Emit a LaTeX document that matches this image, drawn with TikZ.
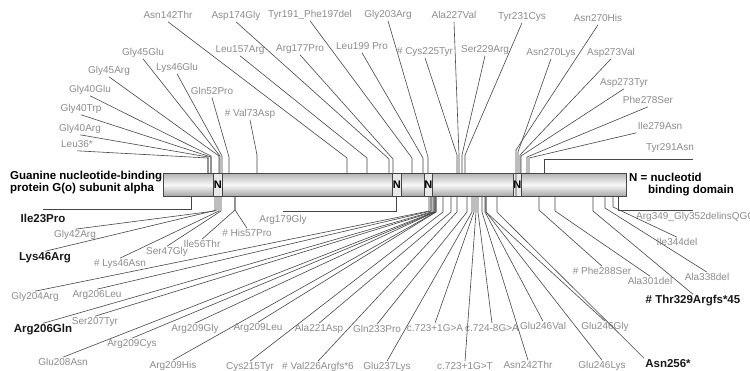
\documentclass[tikz,border=0pt]{standalone}
\usepackage{fontspec}
\setmainfont{Liberation Sans}
\definecolor{labgray}{RGB}{140,140,140}
\definecolor{lngray}{RGB}{70,70,70}
\newcommand\mup[6]{%
  \node[#4] (#1) at (#2) {#3};
  \draw[con] (#1.#6) -- (#5) -- (#5 |- bar.north);}
\newcommand\mdn[6]{%
  \node[#4] (#1) at (#2) {#3};
  \draw[con] (#1.#6) -- (#5) -- (#5 |- bar.south);}
\begin{document}
\begin{tikzpicture}[x=1pt,y=-1pt,
  lab/.style={font=\fontsize{10}{11}\selectfont, text=labgray, inner sep=1pt, text height=7.2pt, text depth=2pt},
  blab/.style={font=\bfseries\fontsize{11.5}{13}\selectfont, text=black!90, inner sep=1pt, text height=8.5pt, text depth=2.5pt},
  con/.style={draw=lngray, line width=0.6pt},
  nbox/.style={draw=lngray, line width=0.5pt, fill=gray!18, inner sep=0pt, anchor=north west, minimum height=23pt, font=\bfseries\fontsize{11}{12}\selectfont},
  ttl/.style={font=\bfseries\fontsize{11.5}{12}\selectfont, align=left, inner sep=0pt, anchor=west}]
\useasboundingbox (0,0) rectangle (750,371);
\fill[white] (0,0) rectangle (750,371);
% bar
\node[draw=lngray, line width=0.6pt, anchor=north west, inner sep=0pt, minimum width=463pt, minimum height=23pt,
  top color=gray!60, bottom color=gray!70, middle color=gray!6] (bar) at (163,173) {};
\node[nbox, minimum width=9pt] (n1) at (213,173) {N};
\node[nbox, minimum width=9pt] (n2) at (392,173) {N};
\node[nbox, minimum width=7pt] (n3) at (424,173) {N};
\node[nbox, minimum width=7pt] (n4) at (513,173) {N};
% titles
\node[ttl] (title) at (10,183) {Guanine nucleotide-binding\\protein G(o) subunit alpha};
\node[ttl] (legend) at (629,185) {N = nucleotid\\\hspace*{19pt}binding domain};
% top mutations
\mup{leu36}{77,145}{Leu36*}{lab}{208,158}{south}
\mup{gly40arg}{80,129}{Gly40Arg}{lab}{208,157}{south}
\mup{gly40trp}{81,109}{Gly40Trp}{lab}{211,157}{south}
\mup{gly40glu}{90,90}{Gly40Glu}{lab}{211,156}{south}
\mup{gly45arg}{109,71}{Gly45Arg}{lab}{219,156}{south}
\mup{gly45glu}{143,53}{Gly45Glu}{lab}{220,156}{south}
\mup{lys46glu}{177,68}{Lys46Glu}{lab}{222,156}{south}
\mup{gln52pro}{212,92}{Gln52Pro}{lab}{229,157}{south}
\mup{val73asp}{250,114}{\# Val73Asp}{lab}{257,155}{south}
\mup{asn142}{168,16}{Asn142Thr}{lab}{347,158}{south}
\mup{leu157}{240,50}{Leu157Arg}{lab}{367,158}{south}
\mup{asp174}{236,16}{Asp174Gly}{lab}{389,159}{south}
\mup{arg177}{300,49}{Arg177Pro}{lab}{393,159}{south}
\mup{tyr191}{310,15}{Tyr191\_Phe197del}{lab}{412,158}{south}
\mup{leu199}{362,47}{Leu199 Pro}{lab}{423,158}{south}
\mup{gly203}{388,15}{Gly203Arg}{lab}{428,157}{south}
\mup{cys225}{425,52}{\# Cys225Tyr}{lab}{457,155}{south}
\mup{ala227}{454,16}{Ala227Val}{lab}{459,155}{south}
\mup{ser229}{485,50}{Ser229Arg}{lab}{462,155}{south}
\mup{tyr231}{522,17}{Tyr231Cys}{lab}{465,155}{south}
\mup{asn270k}{551,53}{Asn270Lys}{lab}{518,152}{south}
\mup{asp273v}{611,53}{Asp273Val}{lab}{520,155}{south}
\mup{asp273y}{624,83}{Asp273Tyr}{lab}{521,156}{south}
\mup{phe278}{648,101}{Phe278Ser}{lab}{527,157}{south}
\mup{ile279}{660,127}{Ile279Asn}{lab}{529,158}{south west}
\mdn{asn270h}{598,19}{Asn270His}{lab}{516,150}{south}
\node[lab] (tyr291) at (670,148) {Tyr291Asn};
\coordinate (tyr291end) at (693,159);
\draw[con] (tyr291end) -| (544,0 |- bar.north);
% bottom mutations
\node[blab] (ile23) at (43,220) {Ile23Pro};
\draw[con] ([yshift=4pt]ile23.north) -| (191,0 |- bar.south);
\node[lab] (arg179) at (283,220) {Arg179Gly};
\draw[con] ([yshift=3pt]arg179.north) -| (396,0 |- bar.south);
\node[lab, anchor=west] (arg349) at (635,217) {Arg349\_Gly352delinsQGCA};
\coordinate (arg349end) at (693,210);
\draw[con] (arg349end) -| (618,0 |- bar.south);
\mdn{gly42}{75,235}{Gly42Arg}{lab}{215,211}{north}
\mdn{lys46r}{45,258}{Lys46Arg}{blab}{217,210}{north}
\mdn{lys46n}{120,264}{\# Lys46Asn}{lab}{219,211}{north}
\mdn{ser47}{167,252}{Ser47Gly}{lab}{221,211}{north}
\mdn{ile56}{202,245}{Ile56Thr}{lab}{235,210}{north}
\mdn{his57}{247,234}{\# His57Pro}{lab}{235,210}{north}
\mdn{gly204}{35,297}{Gly204Arg}{lab}{429,211}{north}
\mdn{arg206l}{97,295}{Arg206Leu}{lab}{431,211}{north}
\mdn{arg206q}{43,330}{Arg206Gln}{blab}{431,212}{north}
\mdn{ser207}{95,322}{Ser207Tyr}{lab}{433,212}{north}
\mdn{glu208}{63,363}{Glu208Asn}{lab}{434,212}{north}
\mdn{arg209c}{132,344}{Arg209Cys}{lab}{435,212}{north}
\mdn{arg209g}{195,329}{Arg209Gly}{lab}{435,212}{north}
\mdn{arg209h}{173,366}{Arg209His}{lab}{436,212}{north}
\mdn{arg209l}{258,328}{Arg209Leu}{lab}{436,212}{north}
\mdn{cys215}{250,367}{Cys215Tyr}{lab}{443,212}{north}
\mdn{ala221}{319,329}{Ala221Asp}{lab}{451,212}{north}
\mdn{val226}{318,367}{\# Val226Argfs*6}{lab}{457,212}{north}
\mdn{gln233}{377,330}{Gln233Pro}{lab}{467,212}{north}
\mdn{glu237}{387,367}{Glu237Lys}{lab}{472,212}{north}
\mdn{c723a}{435,329}{c.723+1G>A}{lab}{474,212}{north}
\mdn{c723t}{465,367}{c.723+1G>T}{lab}{476,212}{north}
\mdn{c724}{492,329}{c.724-8G>A}{lab}{478,212}{north}
\mdn{asn242}{528,366}{Asn242Thr}{lab}{482,212}{north}
\mdn{glu246v}{543,327}{Glu246Val}{lab}{485,212}{north}
\mdn{glu246g}{605,327}{Glu246Gly}{lab}{486,212}{north}
\mdn{glu246k}{602,366}{Glu246Lys}{lab}{486,212}{north}
\mdn{asn256}{668,365}{Asn256*}{blab}{497,212}{north west}
\mdn{phe288}{602,272}{\# Phe288Ser}{lab}{539,210}{north}
\mdn{ala301}{650,282}{Ala301del}{lab}{555,211}{north}
\mdn{thr329}{693,301}{\# Thr329Argfs*45}{blab}{593,211}{north}
\mdn{ala338}{707,278}{Ala338del}{lab}{605,208}{north}
\mdn{ile344}{677,243}{Ile344del}{lab}{613,207}{north}
\end{tikzpicture}
\end{document}
